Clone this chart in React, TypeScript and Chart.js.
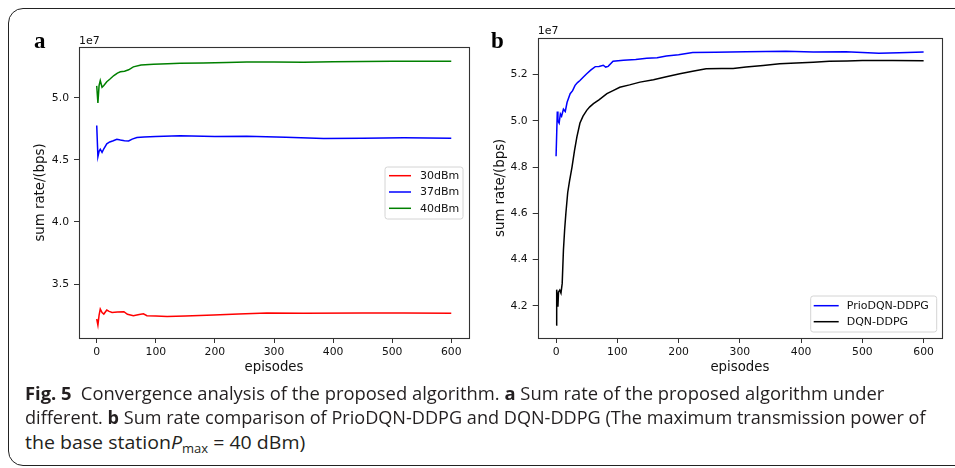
import React, { useEffect, useLayoutEffect, useRef } from 'react';
import { Chart, registerables } from 'chart.js';

Chart.register(...registerables);

// ---- Panel a : sum rate (units of 1e7 bps) vs episodes ----
const EP_30 = [0, 2, 4, 6, 9, 12, 17, 21, 26, 35, 46, 52, 62, 72, 79, 85, 100, 119, 150, 198, 240, 288, 350, 450, 520, 600];
const V_30 = [3.218, 3.169, 3.25, 3.298, 3.27, 3.258, 3.29, 3.28, 3.27, 3.275, 3.277, 3.256, 3.245, 3.255, 3.26, 3.245, 3.242, 3.238, 3.243, 3.25, 3.258, 3.266, 3.265, 3.267, 3.266, 3.264];

const EP_37 = [0, 2, 4, 6, 9, 12, 17, 22, 28, 34, 40, 47, 54, 60, 68, 80, 100, 141, 200, 254, 320, 384, 450, 520, 600];
const V_37 = [4.777, 4.527, 4.57, 4.586, 4.56, 4.59, 4.63, 4.645, 4.655, 4.667, 4.66, 4.655, 4.653, 4.668, 4.68, 4.685, 4.688, 4.694, 4.688, 4.69, 4.683, 4.672, 4.675, 4.678, 4.675];

const EP_40 = [0, 2, 4, 6, 9, 12, 17, 22, 29, 35, 40, 47, 54, 62, 75, 96, 120, 141, 180, 220, 254, 300, 350, 400, 450, 500, 550, 600];
const V_40 = [5.097, 4.96, 5.10, 5.14, 5.086, 5.10, 5.13, 5.15, 5.18, 5.20, 5.21, 5.215, 5.226, 5.25, 5.265, 5.27, 5.275, 5.28, 5.282, 5.285, 5.29, 5.29, 5.288, 5.292, 5.294, 5.295, 5.296, 5.295];

// ---- Panel b ----
const EP_PRIO = [0, 2, 3, 5, 7, 9, 12, 15, 18, 23, 27, 31, 35, 39, 45, 50, 57, 64, 70, 77, 81, 85, 93, 110, 130, 148, 165, 180, 200, 223, 260, 310, 375, 420, 473, 527, 560, 600];
const V_PRIO = [4.847, 5.04, 5.00, 4.99, 5.03, 5.02, 5.05, 5.04, 5.08, 5.117, 5.13, 5.153, 5.165, 5.174, 5.19, 5.203, 5.22, 5.234, 5.235, 5.24, 5.232, 5.235, 5.257, 5.262, 5.265, 5.27, 5.272, 5.28, 5.285, 5.295, 5.296, 5.298, 5.3, 5.297, 5.298, 5.292, 5.294, 5.297];

const EP_DQN = [0, 1, 3, 4, 6, 8, 10, 12, 14, 16, 19, 22, 26, 30, 34, 39, 44, 50, 55, 61, 70, 83, 93, 104, 120, 137, 159, 180, 202, 225, 245, 270, 289, 310, 338, 365, 392, 420, 446, 475, 500, 550, 600];
const V_DQN = [4.117, 4.27, 4.196, 4.26, 4.268, 4.255, 4.297, 4.44, 4.53, 4.6, 4.69, 4.74, 4.8, 4.87, 4.93, 4.99, 5.02, 5.045, 5.06, 5.074, 5.09, 5.117, 5.13, 5.145, 5.155, 5.167, 5.177, 5.19, 5.203, 5.215, 5.225, 5.226, 5.226, 5.232, 5.239, 5.246, 5.25, 5.253, 5.257, 5.258, 5.26, 5.26, 5.259];

const X_LABEL = 'episodes';
const Y_LABEL = 'sum rate/(bps)';
const EXPONENT = '1e7';
const X_STEP = 100;

const TICK_FONT = { family: 'DejaVu Sans', size: 10.8 };
const TITLE_FONT = { family: 'DejaVu Sans', size: 13.3 };
const AXIS_COLOR = '#333';
const TEXT_COLOR = '#111';

type Series = { label: string; ep: number[]; v: number[]; color: string };

type Legend = {
  w: number; h: number; right: number; top?: number; bottom?: number;
  lineX: number; lineLen: number; textX: number; rowY0: number; rowGap: number;
};

function decorPlugin(series: Series[], legend: Legend) {
  return {
    id: 'decor',
    afterDatasetsDraw(chart: any) {
      const { ctx, chartArea: a } = chart;
      ctx.save();
      const l = Math.round(a.left) + 0.5, t = Math.round(a.top) + 0.5;
      const r = Math.round(a.right) + 0.5, b = Math.round(a.bottom) + 0.5;
      ctx.strokeStyle = AXIS_COLOR;
      ctx.lineWidth = 1.1;
      ctx.strokeRect(l, t, r - l, b - t);
      ctx.fillStyle = TEXT_COLOR;
      ctx.font = '11px "DejaVu Sans"';
      ctx.textAlign = 'left';
      ctx.textBaseline = 'alphabetic';
      ctx.fillText(EXPONENT, a.left, a.top - 3.5);
      const x0 = a.right - legend.right - legend.w;
      const y0 = legend.top !== undefined ? a.top + legend.top : a.bottom - (legend.bottom as number) - legend.h;
      ctx.beginPath();
      const rad = 2.5;
      ctx.moveTo(x0 + rad, y0);
      ctx.arcTo(x0 + legend.w, y0, x0 + legend.w, y0 + legend.h, rad);
      ctx.arcTo(x0 + legend.w, y0 + legend.h, x0, y0 + legend.h, rad);
      ctx.arcTo(x0, y0 + legend.h, x0, y0, rad);
      ctx.arcTo(x0, y0, x0 + legend.w, y0, rad);
      ctx.closePath();
      ctx.fillStyle = 'rgba(255,255,255,0.85)';
      ctx.fill();
      ctx.strokeStyle = '#d4d4d4';
      ctx.lineWidth = 1;
      ctx.stroke();
      ctx.font = '11px "DejaVu Sans"';
      ctx.textBaseline = 'middle';
      series.forEach((s, i) => {
        const y = y0 + legend.rowY0 + i * legend.rowGap;
        ctx.strokeStyle = s.color;
        ctx.lineWidth = 1.5;
        ctx.beginPath();
        ctx.moveTo(x0 + legend.lineX, y);
        ctx.lineTo(x0 + legend.lineX + legend.lineLen, y);
        ctx.stroke();
        ctx.fillStyle = TEXT_COLOR;
        ctx.fillText(s.label, x0 + legend.textX, y + 0.5);
      });
      ctx.restore();
    },
  };
}

type PanelSpec = {
  series: Series[];
  yMin: number; yMax: number; yStep: number;
  padding: { top: number; right: number; left: number; bottom: number };
  yAxisW: number; xAxisH: number;
  yTitlePad: number; xTitlePad: number;
  legend: Legend;
};

function buildConfig(p: PanelSpec): any {
  const gridCommon = {
    display: true, drawOnChartArea: false, drawTicks: true, tickLength: 5,
    color: AXIS_COLOR, lineWidth: 1,
  };
  return {
    type: 'line',
    data: {
      datasets: p.series.map((s) => ({
        label: s.label,
        data: s.ep.map((x, i) => ({ x, y: s.v[i] })),
        borderColor: s.color,
        backgroundColor: s.color,
        borderWidth: 1.5,
        pointRadius: 0,
        tension: 0,
        fill: false,
      })),
    },
    options: {
      animation: false,
      responsive: false,
      events: [],
      layout: { padding: p.padding },
      plugins: { legend: { display: false }, tooltip: { enabled: false } },
      scales: {
        x: {
          type: 'linear',
          min: -30,
          max: 630,
          afterFit: (s: any) => { s.height = p.xAxisH; },
          border: { display: false },
          grid: gridCommon,
          ticks: {
            stepSize: X_STEP, includeBounds: false, autoSkip: false, maxRotation: 0,
            padding: 3, font: TICK_FONT, color: TEXT_COLOR,
            callback: (v: number) => String(v),
          },
          title: {
            display: true, text: X_LABEL, font: TITLE_FONT, color: TEXT_COLOR,
            padding: { top: 0, bottom: p.xTitlePad },
          },
        },
        y: {
          type: 'linear',
          min: p.yMin,
          max: p.yMax,
          afterFit: (s: any) => { s.width = p.yAxisW; },
          border: { display: false },
          grid: gridCommon,
          ticks: {
            stepSize: p.yStep, includeBounds: false, autoSkip: false,
            padding: 5, font: TICK_FONT, color: TEXT_COLOR,
            callback: (v: number) => v.toFixed(1),
          },
          title: {
            display: true, text: Y_LABEL, font: TITLE_FONT, color: TEXT_COLOR,
            padding: { top: p.yTitlePad, bottom: 0 },
          },
        },
      },
    },
    plugins: [decorPlugin(p.series, p.legend)],
  };
}

const PANEL_A: PanelSpec = {
  series: [
    { label: '30dBm', ep: EP_30, v: V_30, color: '#ff0000' },
    { label: '37dBm', ep: EP_37, v: V_37, color: '#0000ff' },
    { label: '40dBm', ep: EP_40, v: V_40, color: '#008000' },
  ],
  yMin: 3.065, yMax: 5.41, yStep: 0.5,
  padding: { top: 27, right: 6, left: 0, bottom: 0 },
  yAxisW: 59, xAxisH: 44,
  yTitlePad: 13, xTitlePad: 6.5,
  legend: { w: 78, h: 52, right: 6, top: 120, lineX: 4, lineLen: 22, textX: 35, rowY0: 8.7, rowGap: 16.3 },
};

const PANEL_B: PanelSpec = {
  series: [
    { label: 'PrioDQN-DDPG', ep: EP_PRIO, v: V_PRIO, color: '#0000ff' },
    { label: 'DQN-DDPG', ep: EP_DQN, v: V_DQN, color: '#000000' },
  ],
  yMin: 4.061, yMax: 5.359, yStep: 0.2,
  padding: { top: 27.7, right: 8, left: 0, bottom: 0 },
  yAxisW: 57.7, xAxisH: 44,
  yTitlePad: 12.7, xTitlePad: 6.5,
  legend: { w: 126, h: 36, right: 5.3, bottom: 6, lineX: 3, lineLen: 25, textX: 36, rowY0: 9.7, rowGap: 16 },
};

function Panel({ spec, left, top, width, height }: { spec: PanelSpec; left: number; top: number; width: number; height: number }) {
  const ref = useRef<HTMLCanvasElement>(null);
  useEffect(() => {
    const chart = new Chart(ref.current as HTMLCanvasElement, buildConfig(spec));
    return () => chart.destroy();
  }, [spec]);
  return (
    <canvas
      ref={ref}
      width={width}
      height={height}
      style={{ position: 'absolute', left, top, width, height }}
    />
  );
}

const CAPTION_TARGETS = [859, 901, 280];

function Caption() {
  const refs = [useRef<HTMLDivElement>(null), useRef<HTMLDivElement>(null), useRef<HTMLDivElement>(null)];
  useLayoutEffect(() => {
    refs.forEach((r, i) => {
      const el = r.current;
      if (!el) return;
      const w = el.scrollWidth;
      const target = CAPTION_TARGETS[i];
      if (target > 0 && w > 0) el.style.transform = `scaleX(${target / w})`;
    });
  }, []);
  const lineStyle: React.CSSProperties = {
    position: 'absolute', left: 0, whiteSpace: 'nowrap', transformOrigin: '0 0',
    lineHeight: '24px', height: 24, display: 'inline-block',
  };
  return (
    <div style={{ position: 'absolute', left: 25, top: 0, fontFamily: '"Open Sans", sans-serif', fontSize: 18, color: '#231f20' }}>
      <div ref={refs[0]} style={{ ...lineStyle, top: 380.5 }}>
        <b>Fig. 5</b>{'\u2002'}Convergence analysis of the proposed algorithm. <b>a</b> Sum rate of the proposed algorithm under
      </div>
      <div ref={refs[1]} style={{ ...lineStyle, top: 405 }}>
        different. <b>b</b> Sum rate comparison of PrioDQN-DDPG and DQN-DDPG (The maximum transmission power of
      </div>
      <div ref={refs[2]} style={{ ...lineStyle, top: 429.5 }}>
        the base station<i>P</i><sub style={{ fontSize: 12, verticalAlign: '-4px' }}>max</sub>{' = 40 dBm)'}
      </div>
    </div>
  );
}

export default function App() {
  return (
    <div style={{ position: 'absolute', left: 0, top: 0, width: 955, height: 468, overflow: 'hidden', background: '#fff' }}>
      <div style={{ position: 'absolute', left: 7.5, top: 7.5, width: 1100, height: 458, border: '1.3px solid #222', borderRadius: 15, boxSizing: 'border-box' }} />
      <Panel spec={PANEL_A} left={20} top={20} width={455} height={362} />
      <Panel spec={PANEL_B} left={480} top={10} width={470} height={372} />
      <div style={{ position: 'absolute', left: 34, top: 28, fontFamily: '"Liberation Serif", serif', fontWeight: 'bold', fontSize: 23 }}>a</div>
      <div style={{ position: 'absolute', left: 491, top: 28, fontFamily: '"Liberation Serif", serif', fontWeight: 'bold', fontSize: 23 }}>b</div>
      <Caption />
    </div>
  );
}
